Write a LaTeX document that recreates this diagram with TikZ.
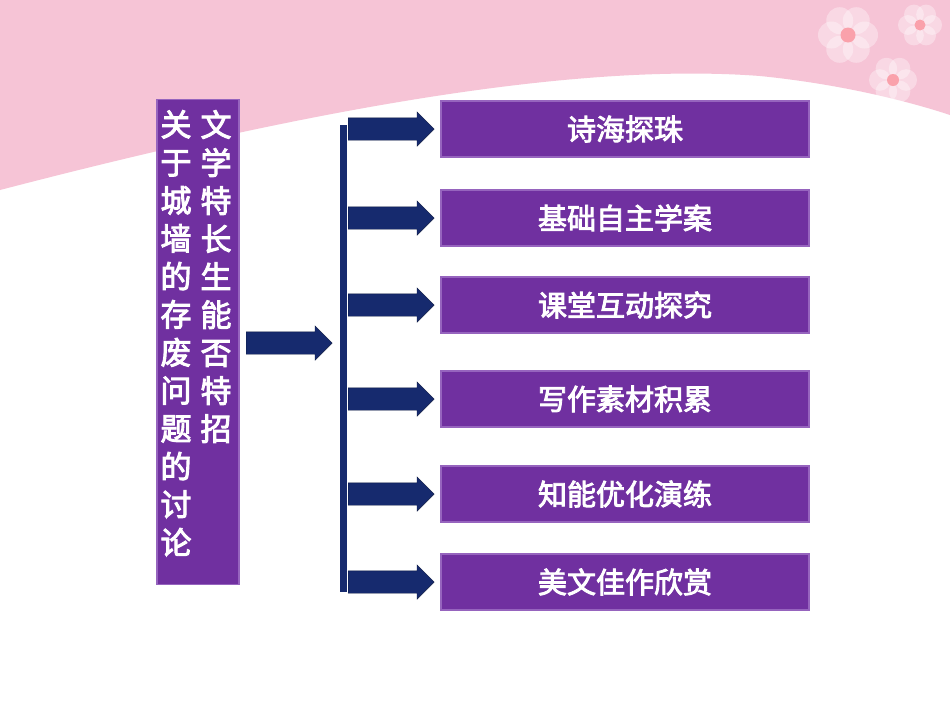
\documentclass[tikz,border=0pt]{standalone}
\usepackage{fontspec}
\newfontfamily\cjk[AutoFakeBold=3]{Noto Sans CJK SC}
\usetikzlibrary{shapes.arrows}
\definecolor{boxviolet}{RGB}{112,48,160}
\definecolor{boxedge}{RGB}{150,100,190}
\definecolor{navy}{RGB}{22,42,110}
\definecolor{bgpink}{RGB}{246,196,214}
\tikzset{
  topic/.style={draw=boxedge, line width=1.5pt, fill=boxviolet, minimum width=368pt, minimum height=56pt, text=white, font=\cjk\bfseries\fontsize{29}{29}\selectfont},
  branch/.style={single arrow, fill=navy, draw=navy!60!black, single arrow head extend=6pt, minimum height=86pt, inner xsep=0pt, inner ysep=11pt, single arrow tip angle=90, anchor=west},
}
\begin{document}
\begin{tikzpicture}[x=1pt,y=-1pt]
  % page and pink top band
  \useasboundingbox (0,0) rectangle (950,713);
  \fill[white] (0,0) rectangle (950,713);
  \fill[bgpink] (0,0) -- (0,190) .. controls (250,125) and (550,60) .. (760,76) .. controls (850,85) and (920,105) .. (950,115) -- (950,0) -- cycle;
  % flowers
  \foreach \cx/\cy/\r in {848/35/30, 920/25/22, 893/80/24}{
    \foreach \a in {0,60,...,300}
      \fill[white, opacity=0.35] (\cx,\cy) ++(\a:\r*0.55) circle (\r*0.45);
    \fill[bgpink!70!red!80!white] (\cx,\cy) circle (\r*0.25);
  }
  % left title box
  \node[draw=boxedge, line width=1.5pt, fill=boxviolet, minimum width=82pt, minimum height=485pt] (title) at (198,342) {};
  \node[text=white, font=\cjk\bfseries\fontsize{31}{38}\selectfont, align=center, anchor=north, inner sep=0pt] (colb) at (216,110)
    {文\\学\\特\\长\\生\\能\\否\\特\\招};
  \node[text=white, font=\cjk\bfseries\fontsize{31}{38}\selectfont, align=center, anchor=north, inner sep=0pt] (cola) at (176,110)
    {关\\于\\城\\墙\\的\\存\\废\\问\\题\\的\\讨\\论};
  % bracket bar
  \coordinate (bartop) at (343,125);
  \coordinate (barbot) at (343,592);
  \draw[navy, line width=7pt] (bartop) -- (barbot);
  \node[branch] (main) at (246,343) {};
  % topic boxes and their arrows
  \foreach \y/\t [count=\i] in {129/诗海探珠, 218/基础自主学案, 305/课堂互动探究, 399/写作素材积累, 494/知能优化演练, 582/美文佳作欣赏}{
    \node[topic] (topic\i) at (625,\y) {\t};
    \node[branch] (arr\i) at (348,\y) {};
  }
\end{tikzpicture}
\end{document}
